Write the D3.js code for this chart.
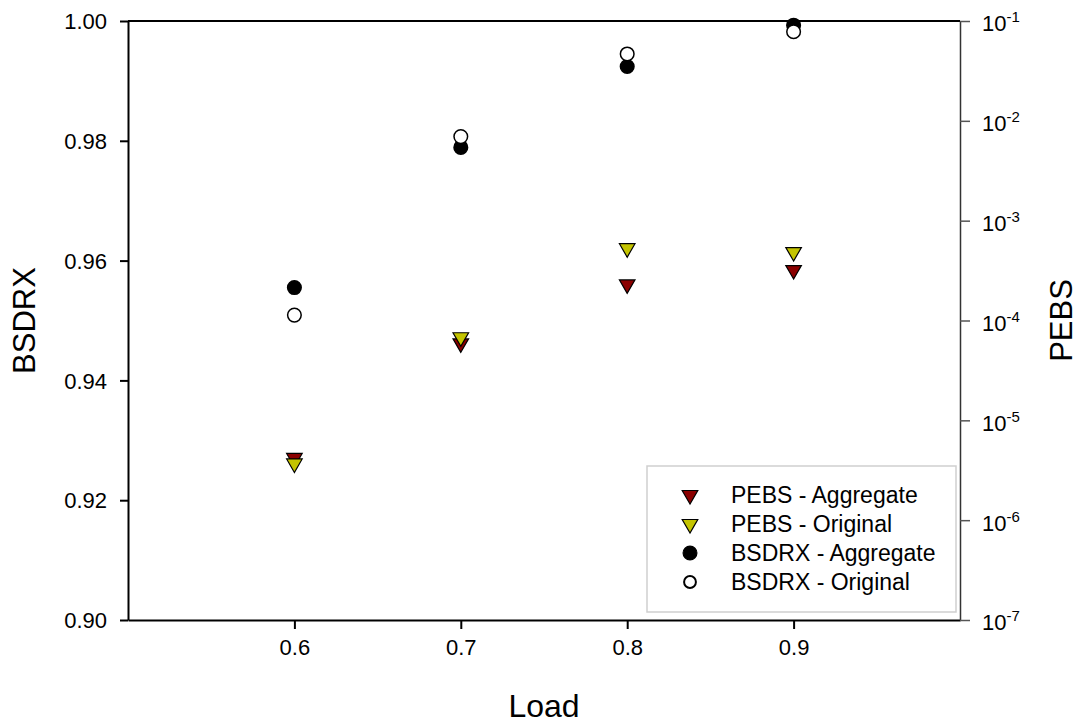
<!DOCTYPE html>
<html>
<head>
<meta charset="utf-8">
<script src="https://cdn.jsdelivr.net/npm/d3@7/dist/d3.min.js"></script>
<style>
  body { margin: 0; background: #fff; }
  svg text { font-family: Arial, "Liberation Sans", sans-serif; fill: #000; }
</style>
</head>
<body>
<div id="chart"></div>
<script>
const loads = [0.6, 0.7, 0.8, 0.9];
const pebsAggregate = [4.2e-6, 5.9e-5, 2.3e-4, 3.2e-4];
const pebsOriginal = [3.7e-6, 6.8e-5, 5.3e-4, 4.85e-4];
const bsdrxAggregate = [0.9555, 0.9789, 0.9924, 0.9993];
const bsdrxOriginal = [0.9509, 0.9807, 0.9945, 0.9982];

const xTicks = [0.6, 0.7, 0.8, 0.9];
const yLeftTicks = [0.90, 0.92, 0.94, 0.96, 0.98, 1.00];
const yRightExps = [-7, -6, -5, -4, -3, -2, -1];

const seriesNames = ["PEBS - Aggregate", "PEBS - Original", "BSDRX - Aggregate", "BSDRX - Original"];

const W = 1085, H = 726;
const margin = { top: 21, right: 125, bottom: 106, left: 128 };
const width = W - margin.left - margin.right;
const height = H - margin.top - margin.bottom;

const svg = d3.select("#chart").append("svg")
  .attr("width", W)
  .attr("height", H);

const g = svg.append("g")
  .attr("transform", `translate(${margin.left},${margin.top})`);

const x = d3.scaleLinear().domain([0.5, 1.0]).range([0, width]);
const yL = d3.scaleLinear().domain([0.90, 1.00]).range([height, 0]);
const yR = d3.scaleLog().domain([1e-7, 1e-1]).range([height, 0]);

// frame: top line
g.append("line")
  .attr("x1", 0).attr("x2", width)
  .attr("y1", 0).attr("y2", 0)
  .attr("stroke", "#000").attr("stroke-width", 2);

// left axis
const leftAxis = g.append("g")
  .call(d3.axisLeft(yL).tickValues(yLeftTicks).tickFormat(d3.format(".2f")).tickSize(8).tickPadding(13).tickSizeOuter(0));
leftAxis.select(".domain").attr("stroke-width", 2);
leftAxis.selectAll(".tick line").attr("stroke-width", 2);
leftAxis.selectAll("text").style("font-size", "22px").attr("dy", "0.35em");

// bottom axis
const bottomAxis = g.append("g")
  .attr("transform", `translate(0,${height})`)
  .call(d3.axisBottom(x).tickValues(xTicks).tickFormat(d3.format(".1f")).tickSize(9).tickPadding(10).tickSizeOuter(0));
bottomAxis.select(".domain").attr("stroke-width", 2);
bottomAxis.selectAll(".tick line").attr("stroke-width", 2);
bottomAxis.selectAll("text").style("font-size", "22px");

// right axis (log)
const rightAxis = g.append("g")
  .attr("transform", `translate(${width},0)`)
  .call(d3.axisRight(yR).tickValues(yRightExps.map(e => Math.pow(10, e))).tickFormat("").tickSize(10).tickSizeOuter(0));
rightAxis.select(".domain").attr("stroke", "#333").attr("stroke-width", 1.5);
rightAxis.selectAll(".tick line").attr("stroke", "#555").attr("stroke-width", 1.5);

rightAxis.selectAll(".tick").each(function(d) {
  const e = Math.round(Math.log10(d));
  const t = d3.select(this).append("text")
    .attr("x", 22)
    .attr("y", 0)
    .attr("dy", "0.45em")
    .attr("text-anchor", "start")
    .style("font-size", "22px")
    .style("fill", "#000");
  t.append("tspan").text("10");
  t.append("tspan").attr("dy", "-0.6em").style("font-size", "15px").text(String(e));
});

// axis titles
svg.append("text")
  .attr("transform", `translate(35,${margin.top + height / 2}) rotate(-90)`)
  .attr("text-anchor", "middle")
  .style("font-size", "31px")
  .text("BSDRX");

svg.append("text")
  .attr("transform", `translate(1072,${margin.top + height / 2}) rotate(-90)`)
  .attr("text-anchor", "middle")
  .style("font-size", "31px")
  .text("PEBS");

svg.append("text")
  .attr("x", margin.left + x(0.75))
  .attr("y", 717)
  .attr("text-anchor", "middle")
  .style("font-size", "32px")
  .text("Load");

// markers
const tri = d3.symbol().type(d3.symbolTriangle).size(105);
const red = "#8b0000", yellow = "#c4c400";

function drawTriangles(values, fill) {
  g.append("g").selectAll("path")
    .data(values.map((v, i) => [loads[i], v]))
    .enter()
    .append("path")
    .attr("d", tri)
    .attr("transform", d => `translate(${x(d[0])},${yR(d[1])}) rotate(180)`)
    .attr("fill", fill)
    .attr("stroke", "#000")
    .attr("stroke-width", 1.2);
}

function drawCircles(values, fill) {
  g.append("g").selectAll("circle")
    .data(values.map((v, i) => [loads[i], v]))
    .enter()
    .append("circle")
    .attr("cx", d => x(d[0]))
    .attr("cy", d => yL(d[1]))
    .attr("r", 6.8)
    .attr("fill", fill)
    .attr("stroke", "#000")
    .attr("stroke-width", 1.5);
}

drawTriangles(pebsAggregate, red);
drawTriangles(pebsOriginal, yellow);
drawCircles(bsdrxAggregate, "#000");
drawCircles(bsdrxOriginal, "#fff");

// legend
const legend = svg.append("g").attr("transform", "translate(647,466)");
legend.append("rect")
  .attr("width", 309).attr("height", 146)
  .attr("fill", "#fff")
  .attr("stroke", "#cfcfcf")
  .attr("stroke-width", 1.5);

const legendItems = seriesNames.map((name, i) => ({ name, i }));
const rowY = i => 29 + i * 29;

legend.selectAll(".leg-text")
  .data(legendItems)
  .enter()
  .append("text")
  .attr("x", 84)
  .attr("y", d => rowY(d.i))
  .attr("dy", "0.35em")
  .style("font-size", "23px")
  .text(d => d.name);

legend.selectAll(".leg-sym")
  .data(legendItems)
  .enter()
  .append("path")
  .attr("transform", d => d.i < 2 ? `translate(43,${rowY(d.i)}) rotate(180)` : `translate(43,${rowY(d.i)})`)
  .attr("d", d => d.i < 2 ? tri() : d3.symbol().type(d3.symbolCircle).size(d.i === 2 ? 150 : 110)())
  .attr("fill", d => [red, yellow, "#000", "#fff"][d.i])
  .attr("stroke", "#000")
  .attr("stroke-width", d => d.i === 3 ? 2 : 1.2);
</script>
</body>
</html>
